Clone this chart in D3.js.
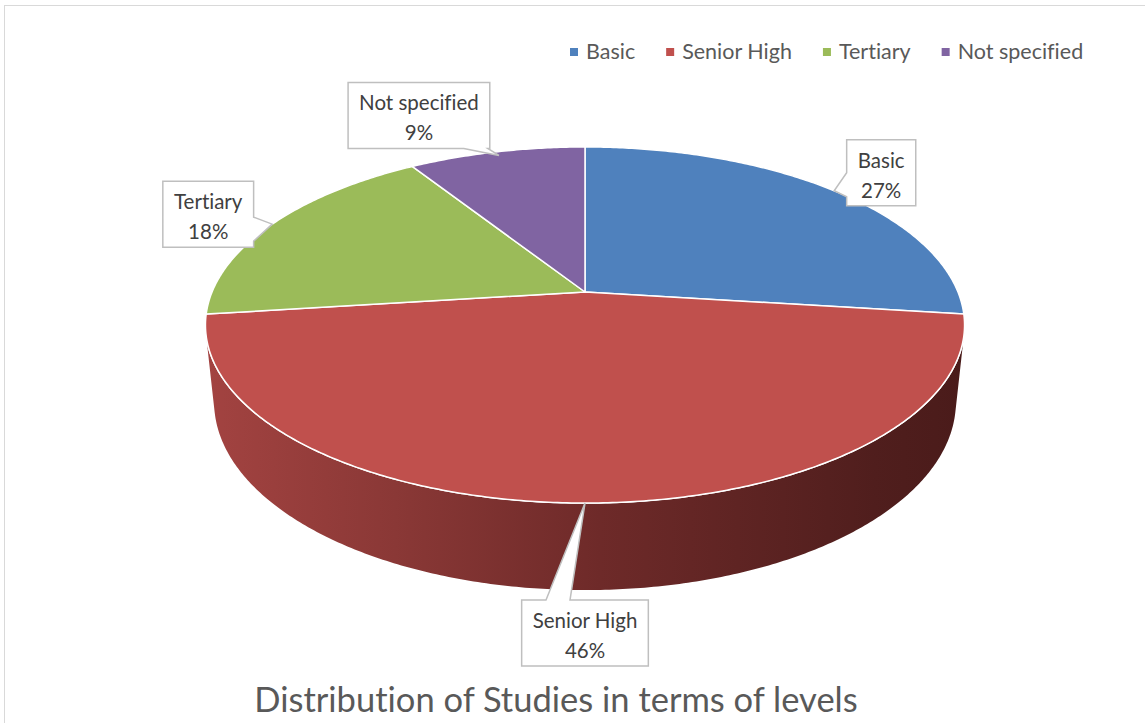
<!DOCTYPE html>
<html>
<head>
<meta charset="utf-8">
<script src="https://cdn.jsdelivr.net/npm/d3@7"></script>
<style>
  html, body { margin: 0; padding: 0; background: #fff; }
  svg { display: block; }
  text { font-variant-ligatures: none; font-feature-settings: "liga" 0; }
</style>
</head>
<body>
<div id="chart"></div>
<script>
// data
var categories = ["Basic", "Senior High", "Tertiary", "Not specified"];
var percentages = [27, 46, 18, 9];
var colors = ["#4f81bd", "#c0504d", "#9bbb59", "#8064a2"];
var title = "Distribution of Studies in terms of levels";

var width = 1145, height = 723;
var font = "Lato, 'Open Sans', sans-serif";

// 3d pie camera (Excel style tilted disc with perspective)
var cx = 585, cy = 292;
var sinA = 0.461, cosA = Math.sqrt(1 - sinA * sinA);
var dist = 4.786, focal = 1785;
var thick = 0.2345;

function proj(u, w, h) {
  var z = dist - w * cosA + h * sinA;
  return [cx + focal * u / z, cy + focal * (w * sinA + h * cosA) / z];
}
// angle measured clockwise from the far (top) point of the disc
function rim(a, r, h) {
  return proj(r * Math.sin(a), -r * Math.cos(a), h);
}

var svg = d3.select('#chart')
    .append('svg')
    .attr('width', width)
    .attr('height', height);

// chart area border
svg.append('rect')
    .attr('x', 4.5).attr('y', 5.5)
    .attr('width', 1160).attr('height', 740)
    .attr('fill', '#fff')
    .attr('stroke', '#d9d9d9')
    .attr('stroke-width', 1);

var pie = d3.pie().sort(null).value(function(d) { return d.value; });
var data = categories.map(function(c, i) {
  return { name: c, value: percentages[i], color: colors[i] };
});
var arcs = pie(data);

var line = d3.line();

function arcPoints(a0, a1, h) {
  var n = Math.max(2, Math.ceil((a1 - a0) / 0.01));
  return d3.range(n + 1).map(function(j) { return rim(a0 + (a1 - a0) * j / n, 1, h); });
}

// side wall, only the front part is visible
var wSil = 1 / (dist * cosA);
var aSil = Math.acos(-wSil);
var grad = svg.append('defs').append('linearGradient')
    .attr('id', 'wall')
    .attr('gradientUnits', 'userSpaceOnUse')
    .attr('x1', 205).attr('x2', 965).attr('y1', 0).attr('y2', 0);
[[0, '#a34341'], [0.25, '#8a3836'], [0.52, '#6e2a29'], [0.88, '#501e1d'], [1, '#4a1b1a']].forEach(function(s) {
  grad.append('stop').attr('offset', s[0]).attr('stop-color', s[1]);
});

arcs.forEach(function(d) {
  var a0 = Math.max(d.startAngle, aSil), a1 = Math.min(d.endAngle, 2 * Math.PI - aSil);
  if (a1 <= a0) return;
  var pts = arcPoints(a0, a1, 0).concat(arcPoints(a0, a1, thick).reverse());
  svg.append('path')
      .attr('d', line(pts) + 'Z')
      .attr('fill', d.index === 1 ? 'url(#wall)' : d3.color(d.data.color).darker(1.2))
      .attr('stroke', 'none');
  svg.append('path')
      .attr('d', line(arcPoints(a0, a1, 0)))
      .attr('fill', 'none')
      .attr('stroke', '#fff')
      .attr('stroke-width', 1.5);
});

// top face slices
svg.selectAll('path.slice')
    .data(arcs)
    .enter()
    .append('path')
    .attr('class', 'slice')
    .attr('d', function(d) {
      return line([[cx, cy]].concat(arcPoints(d.startAngle, d.endAngle, 0))) + 'Z';
    })
    .attr('fill', function(d) { return d.data.color; })
    .attr('stroke', '#fff')
    .attr('stroke-width', 1.5)
    .attr('stroke-linejoin', 'round');

// callout labels (box offset from the tip, placement only)
var labelOffsets = [[47, -18], [0, 130], [-64, -10], [-80, -40]];
var wedgeShift = [-6, -27, 5, -12];
var lineH = 30;

arcs.forEach(function(d, i) {
  var mid = (d.startAngle + d.endAngle) / 2;
  var tip = rim(mid, i === 3 ? 0.97 : 1, 0);
  var bx = tip[0] + labelOffsets[i][0], by = tip[1] + labelOffsets[i][1];
  var g = svg.append('g');
  var t = g.append('text')
      .attr('text-anchor', 'middle')
      .attr('font-family', font)
      .attr('font-size', 20.5)
      .attr('fill', '#404040');
  t.append('tspan').attr('x', bx).attr('y', by - 5).text(d.data.name);
  t.append('tspan').attr('x', bx).attr('y', by - 5 + lineH).text(d.data.value + '%');
  var tw = t.node().getBBox().width;
  var w = tw + 22, h = 66;
  var x0 = bx - w / 2, x1 = bx + w / 2, y0 = by - h / 2, y1 = by + h / 2;
  var half = 12, s = wedgeShift[i];
  var pts;
  if (tip[1] > y1) { // bottom
    var c = Math.max(x0 + half + 2, Math.min(x1 - half - 2, tip[0] + s));
    pts = [[x0, y0], [x1, y0], [x1, y1], [c + half, y1], tip, [c - half, y1], [x0, y1]];
  } else if (tip[1] < y0) { // top
    var c2 = Math.max(x0 + half + 2, Math.min(x1 - half - 2, tip[0] + s));
    pts = [[x0, y0], [c2 - half, y0], tip, [c2 + half, y0], [x1, y0], [x1, y1], [x0, y1]];
  } else if (tip[0] > x1) { // right
    var c3 = Math.max(y0 + half + 2, Math.min(y1 - half - 2, tip[1] + s));
    pts = [[x0, y0], [x1, y0], [x1, c3 - half], tip, [x1, c3 + half], [x1, y1], [x0, y1]];
  } else { // left
    var c4 = Math.max(y0 + half + 2, Math.min(y1 - half - 2, tip[1] + s));
    pts = [[x0, y0], [x1, y0], [x1, y1], [x0, y1], [x0, c4 + half], tip, [x0, c4 - half]];
  }
  g.insert('path', 'text')
      .attr('d', line(pts) + 'Z')
      .attr('fill', '#fff')
      .attr('stroke', '#bfbfbf')
      .attr('stroke-width', 1.5);
});

// legend
var legend = svg.append('g').attr('font-family', font).attr('font-size', 21.5).attr('fill', '#595959');
var lx = 570;
categories.forEach(function(c, i) {
  legend.append('rect')
      .attr('x', lx).attr('y', 48)
      .attr('width', 8).attr('height', 8)
      .attr('fill', colors[i]);
  var tx = legend.append('text')
      .attr('x', lx + 16).attr('y', 59)
      .text(c);
  lx += 16 + tx.node().getComputedTextLength() + 31;
});

// title
svg.append('text')
    .attr('x', 556).attr('y', 712)
    .attr('text-anchor', 'middle')
    .attr('font-family', font)
    .attr('font-size', 34.5)
    .attr('fill', '#595959')
    .text(title);
</script>
</body>
</html>
